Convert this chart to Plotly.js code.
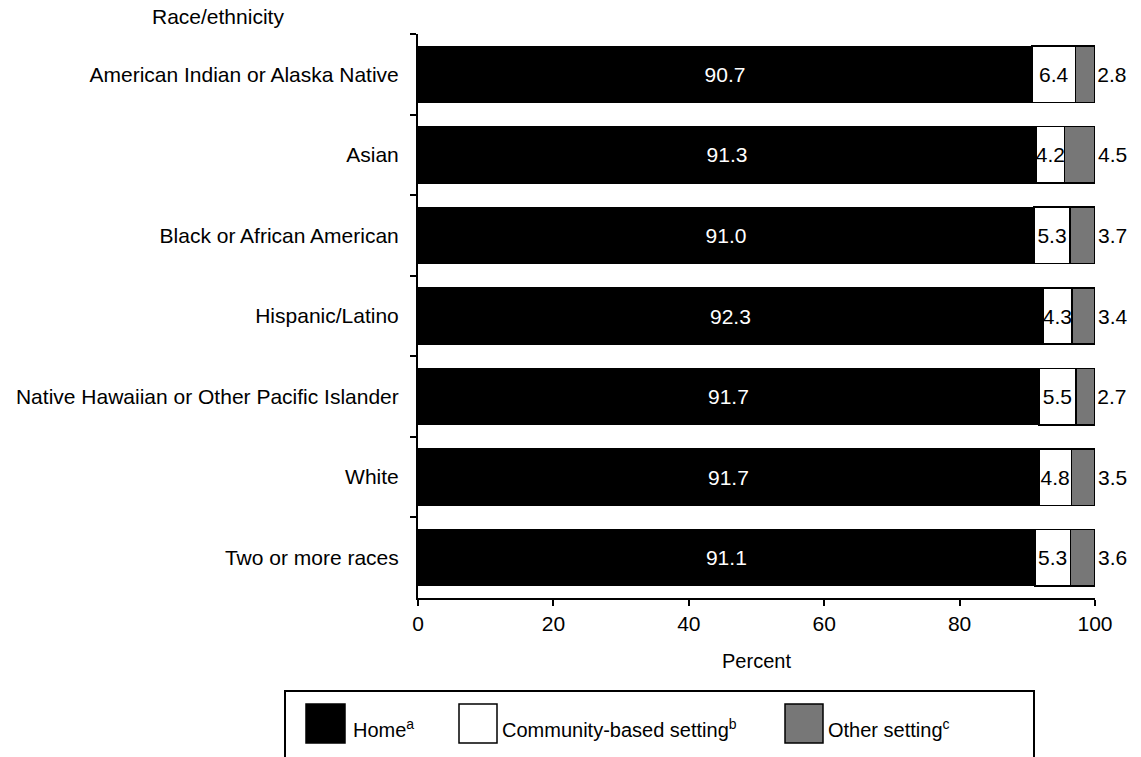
<!DOCTYPE html>
<html>
<head>
<meta charset="utf-8">
<script src="https://cdn.plot.ly/plotly-3.0.1.min.js"></script>
<style>
html,body{margin:0;padding:0;background:#fff;}
#chart{width:1141px;height:757px;}
</style>
</head>
<body>
<div id="chart"></div>
<script>
const categories = [
  "American Indian or Alaska Native",
  "Asian",
  "Black or African American",
  "Hispanic/Latino",
  "Native Hawaiian or Other Pacific Islander",
  "White",
  "Two or more races"
];
const homeValues = [90.7, 91.3, 91.0, 92.3, 91.7, 91.7, 91.1];
const communityValues = [6.4, 4.2, 5.3, 4.3, 5.5, 4.8, 5.3];
const otherValues = [2.8, 4.5, 3.7, 3.4, 2.7, 3.5, 3.6];
const xTicks = [0, 20, 40, 60, 80, 100];

const FONT = "Liberation Sans, Arial, sans-serif";
const fmt = v => v.toFixed(1);

const common = {
  type: "bar",
  orientation: "h",
  y: categories,
  textangle: 0,
  constraintext: "none",
  cliponaxis: false,
  hoverinfo: "skip",
  showlegend: false
};

const traces = [
  Object.assign({}, common, {
    name: "Home",
    x: homeValues,
    text: homeValues.map(fmt),
    textposition: "inside",
    insidetextanchor: "middle",
    insidetextfont: {family: FONT, size: 21, color: "#ffffff"},
    marker: {color: "#000000", line: {color: "#000000", width: 1}}
  }),
  Object.assign({}, common, {
    name: "Community-based setting",
    x: communityValues,
    text: communityValues.map(fmt),
    textposition: "inside",
    insidetextanchor: "middle",
    insidetextfont: {family: FONT, size: 21, color: "#000000"},
    marker: {color: "#ffffff", line: {color: "#000000", width: 1.5}}
  }),
  Object.assign({}, common, {
    name: "Other setting",
    x: otherValues,
    text: otherValues.map(fmt),
    textposition: "outside",
    outsidetextfont: {family: FONT, size: 21, color: "#000000"},
    marker: {color: "#777777", line: {color: "#000000", width: 1.5}}
  })
];

// legend geometry (paper coords)
const lx = px => (px - 418) / 677;
const ly = py => (598 - py) / 564;

const legendItems = [
  {fill: "#000000", x0: 306, x1: 345, label: "Home<sup>a</sup>", tx: 351},
  {fill: "#ffffff", x0: 459, x1: 497, label: "Community-based setting<sup>b</sup>", tx: 500},
  {fill: "#777777", x0: 785, x1: 823, label: "Other setting<sup>c</sup>", tx: 826}
];

const shapes = [{
  type: "rect", xref: "paper", yref: "paper",
  x0: lx(285), x1: lx(1034), y0: ly(691), y1: ly(790),
  line: {color: "#000000", width: 2}, fillcolor: "rgba(0,0,0,0)"
}];
const annotations = [{
  text: "Race/ethnicity", xref: "paper", yref: "paper",
  x: lx(218), y: ly(16), xanchor: "center", yanchor: "middle",
  showarrow: false, font: {family: FONT, size: 21, color: "#000000"}
}];
legendItems.forEach(it => {
  shapes.push({
    type: "rect", xref: "paper", yref: "paper",
    x0: lx(it.x0), x1: lx(it.x1), y0: ly(704), y1: ly(743),
    fillcolor: it.fill, line: {color: "#000000", width: 1.5}
  });
  annotations.push({
    text: it.label, xref: "paper", yref: "paper",
    x: lx(it.tx), y: ly(728), xanchor: "left", yanchor: "middle",
    showarrow: false, font: {family: FONT, size: 20, color: "#000000"}
  });
});

const layout = {
  width: 1141,
  height: 757,
  margin: {l: 418, r: 46, t: 34, b: 159},
  paper_bgcolor: "#ffffff",
  plot_bgcolor: "#ffffff",
  barmode: "stack",
  bargap: 0.3,
  font: {family: FONT, size: 21, color: "#000000"},
  xaxis: {
    range: [0, 100],
    tickvals: xTicks,
    ticktext: xTicks.map(String),
    ticks: "outside",
    ticklen: 6,
    tickwidth: 2,
    tickcolor: "#000000",
    showline: true,
    linewidth: 2,
    linecolor: "#000000",
    showgrid: false,
    zeroline: false,
    tickfont: {family: FONT, size: 21},
    title: {text: "Percent", font: {family: FONT, size: 20}, standoff: 20}
  },
  yaxis: {
    type: "category",
    autorange: "reversed",
    tickson: "boundaries",
    ticks: "outside",
    ticklen: 6,
    tickwidth: 2,
    tickcolor: "#000000",
    showline: true,
    linewidth: 2,
    linecolor: "#000000",
    showgrid: false,
    zeroline: false,
    ticklabelstandoff: 13,
    tickfont: {family: FONT, size: 21}
  },
  shapes: shapes,
  annotations: annotations,
  showlegend: false
};

Plotly.newPlot("chart", traces, layout, {displayModeBar: false, staticPlot: true});
</script>
</body>
</html>
